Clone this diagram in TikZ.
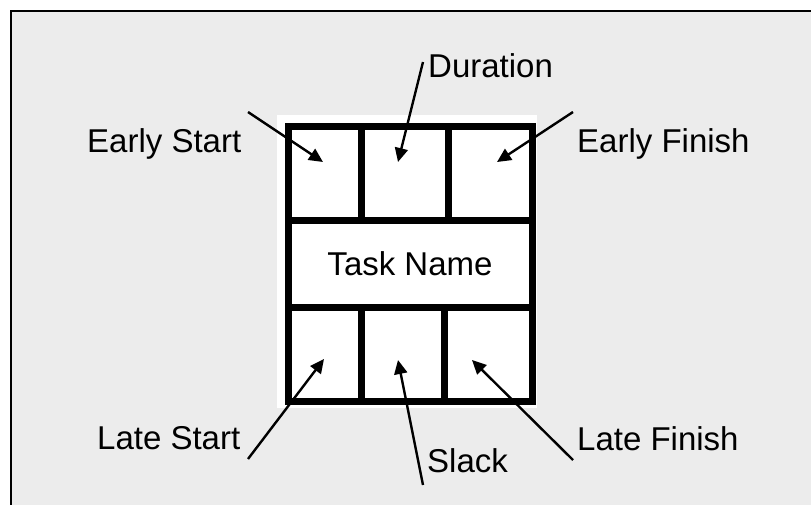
\documentclass[tikz,border=0pt]{standalone}
\usepackage{fontspec}
\setmainfont{Liberation Sans}
\usetikzlibrary{arrows.meta, positioning}
\definecolor{panelgray}{HTML}{ECECEC}
\tikzset {
    x=1pt, y=-1pt,
    pointer/.style={-{Triangle[length=14pt,width=13pt]}, line width=2.4pt},
    frameline/.style={line width=7pt},
    label/.style={inner sep=0pt, anchor=base west, font=\fontsize{33}{40}\selectfont},
    cell/.style={inner sep=0pt}
}

\begin{document}
\begin{tikzpicture}
    \useasboundingbox (0,0) rectangle (811,504);
    % panel and box background
    \fill[panelgray] (11,11) rectangle (820,515);
    \draw[line width=2pt] (11,515) -- (11,11) -- (820,11);
    \fill[white] (277,115) rectangle (537,408);

    % frame of the task box
    \draw[frameline] (288,126.5) rectangle (532,401.5);
    \draw[frameline] (288,220.5) -- (532,220.5);
    \draw[frameline] (288,307.5) -- (532,307.5);
    \draw[frameline] (361,126.5) -- (361,220.5);
    \draw[frameline] (448,126.5) -- (448,220.5);
    \draw[frameline] (361,307.5) -- (361,401.5);
    \draw[frameline] (444.5,307.5) -- (444.5,401.5);

    % cells
    \node[cell] (name) at (410,263.5) {\fontsize{33}{40}\selectfont Task Name};
    \coordinate (es) at (323,162);
    \coordinate (du) at (398,162);
    \coordinate (ef) at (497,162);
    \coordinate (ls) at (324,359);
    \coordinate (sl) at (398,360);
    \coordinate (lf) at (472,360);

    % labels
    \node[label] (esl) at (87,152) {Early Start};
    \node[label] (dul) at (428,77) {Duration};
    \node[label] (efl) at (577,152) {Early Finish};
    \node[label] (lsl) at (97,449) {Late Start};
    \node[label] (sll) at (427,472) {Slack};
    \node[label] (lfl) at (577,450) {Late Finish};

    \coordinate (est) at (248,112);
    \coordinate (dut) at (423,62);
    \coordinate (eft) at (573,112);
    \coordinate (lst) at (248,459);
    \coordinate (slt) at (423,485);
    \coordinate (lft) at (573,460);

    \draw[pointer] (est) -- (es);
    \draw[pointer] (dut) -- (du);
    \draw[pointer] (eft) -- (ef);
    \draw[pointer] (lst) -- (ls);
    \draw[pointer] (slt) -- (sl);
    \draw[pointer] (lft) -- (lf);
\end{tikzpicture}
\end{document}
